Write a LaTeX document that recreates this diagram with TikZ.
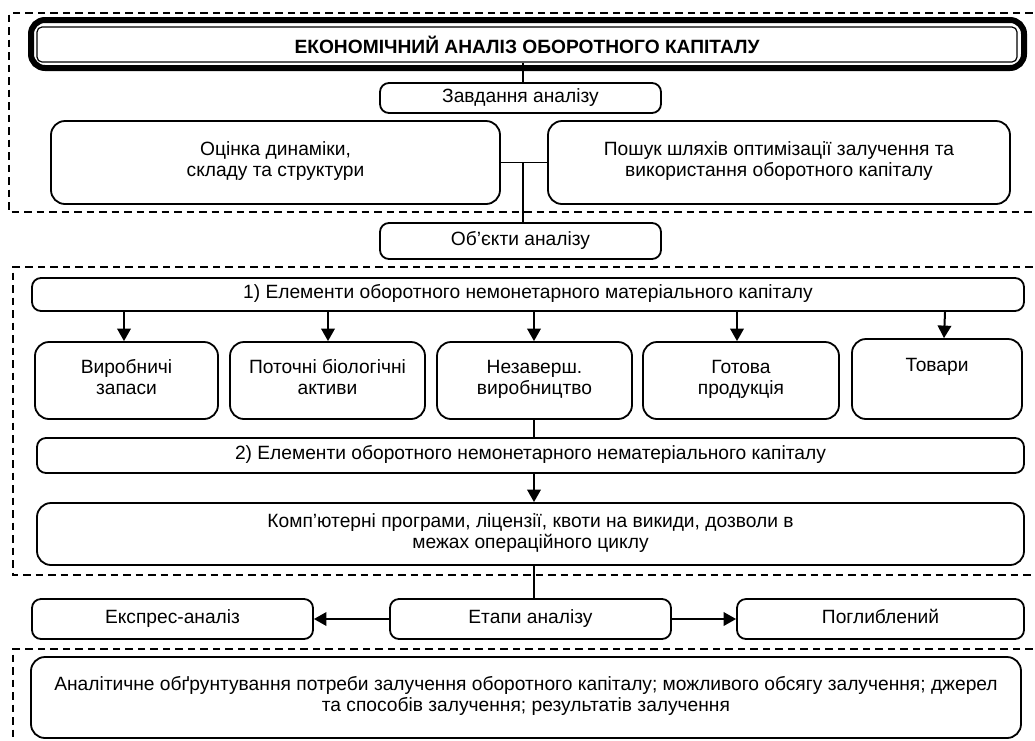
\documentclass[tikz,border=0pt]{standalone}
\usepackage{fontspec}
\setmainfont{Liberation Sans}
\usetikzlibrary{arrows.meta,calc}
\begin{document}
\begin{tikzpicture}[x=1pt,y=-1pt,
  box/.style={draw,line width=1.8pt,rounded corners=9pt,inner sep=0pt,align=center,
    font=\fontsize{19.2}{21}\selectfont,
    execute at begin node={\strut},execute at end node={\strut}},
  bigbox/.style={box,rounded corners=14pt},
  dashbox/.style={draw,line width=1.2pt,dash pattern=on 7.5pt off 5pt},
  conn/.style={line width=1.3pt},
  arr/.style={line width=2pt,-{Triangle[length=12.5pt,width=13.5pt]}}]
\useasboundingbox (0,0) rectangle (1035,740);
% dashed groups
\draw[dashbox] (1045,13) -- (9,13) -- (9,212) -- (1045,212);
\draw[dashbox] (1045,267) -- (13,267) -- (13,575) -- (1045,575);
\draw[dashbox] (1045,649) -- (13,649) -- (13,750);
% title
\draw[line width=6pt,rounded corners=14pt] (31,20) rectangle (1024,68);
\node[draw,line width=1.2pt,rounded corners=5pt,minimum width=980pt,minimum height=35pt,inner sep=0pt,
  font=\fontsize{19.2}{20}\selectfont\bfseries] (title) at (527,44.5) {ЕКОНОМІЧНИЙ АНАЛІЗ ОБОРОТНОГО КАПІТАЛУ};
\node[box,minimum width=281pt,minimum height=30pt] (zav) at (520.5,98) {Завдання аналізу};
\node[bigbox,minimum width=449pt,minimum height=83pt] (ots) at (275.5,162.5) {Оцінка динаміки,\\складу та структури};
\node[bigbox,minimum width=462pt,minimum height=83pt] (posh) at (779,162.5) {Пошук шляхів оптимізації залучення та\\використання оборотного капіталу};
\node[box,minimum width=281pt,minimum height=36pt] (obj) at (520.5,241) {Об’єкти аналізу};
\node[box,minimum width=992pt,minimum height=33pt] (el1) at (528,294.5) {1) Елементи оборотного немонетарного матеріального капіталу};
\node[bigbox,minimum width=183pt,minimum height=77pt] (e1) at (126.5,380.5) {Виробничі\\запаси};
\node[bigbox,minimum width=195pt,minimum height=77pt] (e2) at (327.5,380.5) {Поточні біологічні\\активи};
\node[bigbox,minimum width=195pt,minimum height=77pt] (e3) at (534.5,380.5) {Незаверш.\\виробництво};
\node[bigbox,minimum width=196pt,minimum height=77pt] (e4) at (741,380.5) {Готова\\продукція};
\node[bigbox,minimum width=170pt,minimum height=80pt] (e5) at (937,379) {Товари\\\phantom{Т}};
\node[box,minimum width=987pt,minimum height=35pt] (el2) at (530.5,455.5) {2) Елементи оборотного немонетарного нематеріального капіталу};
\node[bigbox,minimum width=987pt,minimum height=62pt] (komp) at (530.5,534) {Комп’ютерні програми, ліцензії, квоти на викиди, дозволи в\\межах операційного циклу};
\node[box,minimum width=281pt,minimum height=40pt] (eks) at (172.5,619) {Експрес-аналіз};
\node[box,minimum width=281pt,minimum height=40pt] (etap) at (530.5,619) {Етапи аналізу};
\node[box,minimum width=287pt,minimum height=40pt] (pogl) at (880.5,619) {Поглиблений};
\node[bigbox,minimum width=990pt,minimum height=81pt] (anal) at (526,697.5) {Аналітичне обґрунтування потреби залучення оборотного капіталу; можливого обсягу залучення; джерел\\та способів залучення; результатів залучення};
% connectors
\draw[conn] (title.south -| 523,0) -- (zav.north -| 523,0);
\coordinate (j) at (523,162.5);
\draw[conn] (ots.east) -- (posh.west);
\draw[conn] (j) -- (obj.north -| j);
\draw[arr] (el1.south -| 124,0) -- (e1.north -| 124,0);
\draw[arr] (el1.south -| 328,0) -- (e2.north -| 328,0);
\draw[arr] (el1.south -| 534,0) -- (e3.north -| 534,0);
\draw[arr] (el1.south -| 737,0) -- (e4.north -| 737,0);
\draw[arr] (el1.south -| 945,0) -- (e5.north -| 944,0);
\draw[conn] (e3.south -| 534,0) -- (el2.north -| 534,0);
\draw[arr] (el2.south -| 534,0) -- (komp.north -| 534,0);
\draw[conn] (komp.south -| 534,0) -- (etap.north -| 534,0);
\draw[arr] (etap.west) -- (eks.east);
\draw[arr] (etap.east) -- (pogl.west);
\end{tikzpicture}
\end{document}
